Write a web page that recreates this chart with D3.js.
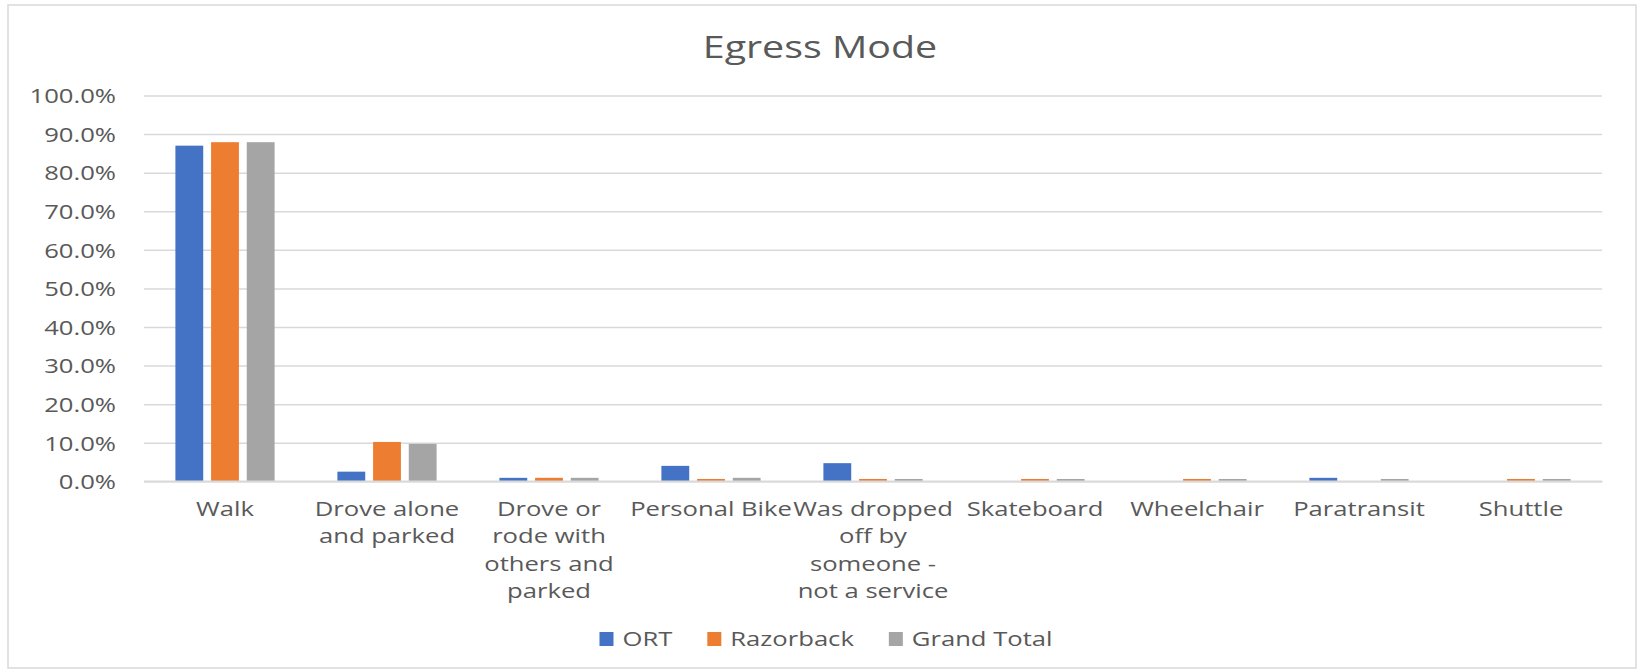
<!DOCTYPE html>
<html lang="en">
<head>
<meta charset="utf-8">
<script src="https://d3js.org/d3.v7.min.js"></script>
<style>
  body { margin: 0; background: #ffffff; }
  text { font-family: "Open Sans", "Noto Sans", sans-serif; fill: #595959; }
</style>
</head>
<body>
<div id="my_dataviz"></div>
<script>
// chart data (percent of riders)
var categories = ["Walk", "Drove alone and parked", "Drove or rode with others and parked",
  "Personal Bike", "Was dropped off by someone - not a service", "Skateboard",
  "Wheelchair", "Paratransit", "Shuttle"];
var tickLines = [["Walk"], ["Drove alone", "and parked"], ["Drove or", "rode with", "others and", "parked"],
  ["Personal Bike"], ["Was dropped", "off by", "someone -", "not a service"], ["Skateboard"],
  ["Wheelchair"], ["Paratransit"], ["Shuttle"]];
var seriesNames = ["ORT", "Razorback", "Grand Total"];
var ort        = [87.0, 2.5, 0.9, 4.0, 4.7, 0.0, 0.0, 0.9, 0.0];
var razorback  = [87.9, 10.2, 0.9, 0.6, 0.6, 0.6, 0.6, 0.0, 0.6];
var grandTotal = [87.9, 9.7, 0.9, 0.9, 0.6, 0.6, 0.6, 0.6, 0.6];
var yTicks = [0, 10, 20, 30, 40, 50, 60, 70, 80, 90, 100];

var colors = ["#4472C4", "#ED7D31", "#A5A5A5"];
var sx = 1.25; // text in the picture is a little wider than the font

var W = 1638, H = 672;
var margin = {top: 95.5, left: 144, right: W - 1602, bottom: H - 481.3};

var svg = d3.select("#my_dataviz")
  .append("svg")
  .attr("width", W)
  .attr("height", H);

// chart border
svg.append("rect")
  .attr("x", 8).attr("y", 5)
  .attr("width", 1628).attr("height", 663)
  .attr("fill", "white")
  .attr("stroke", "#d9d9d9")
  .attr("stroke-width", 1.5);

// title
svg.append("text")
  .attr("transform", "translate(820,58) scale(" + sx + ",1)")
  .attr("text-anchor", "middle")
  .style("font-size", "31.5px")
  .text("Egress Mode");

var x = d3.scaleBand()
  .domain(categories)
  .range([margin.left, W - margin.right]);

var x1 = d3.scaleBand()
  .domain(seriesNames)
  .range([0, x.bandwidth()])
  .paddingInner(0.22)
  .paddingOuter(0.88);

var y = d3.scaleLinear()
  .domain([0, 100])
  .range([H - margin.bottom, margin.top]);

// y axis with gridlines
var yAxis = svg.append("g")
  .attr("transform", "translate(" + margin.left + ",0)")
  .call(d3.axisLeft(y).tickValues(yTicks)
    .tickSize(-(W - margin.left - margin.right))
    .tickFormat(function(d) { return d.toFixed(1) + "%"; }));
yAxis.select(".domain").remove();
yAxis.selectAll(".tick line").attr("stroke", "#d9d9d9").attr("stroke-width", 1.5);
yAxis.selectAll(".tick text")
  .attr("x", -28 / sx)
  .attr("dy", null)
  .attr("y", 7.3)
  .attr("transform", "scale(" + sx + ",1)")
  .style("font-size", "20.5px")
  .style("fill", "#595959");

// category axis
var xAxis = svg.append("g")
  .attr("transform", "translate(0," + y(0) + ")")
  .call(d3.axisBottom(x).tickSize(0).tickFormat(""));
xAxis.select(".domain").attr("stroke", "#d9d9d9").attr("stroke-width", 1.5);
xAxis.selectAll(".tick text")
  .attr("y", 0)
  .attr("dy", null)
  .attr("transform", "translate(0,34.7) scale(" + sx + ",1)")
  .style("font-size", "20.5px")
  .style("fill", "#595959")
  .each(function(d, i) {
    var t = d3.select(this);
    tickLines[i].forEach(function(line, j) {
      t.append("tspan").attr("x", 0).attr("y", j * 27.5).text(line);
    });
  });

// bars
var rows = categories.map(function(c, i) {
  return {cat: c, values: [ort[i], razorback[i], grandTotal[i]]};
});

svg.append("g")
  .selectAll("g")
  .data(rows)
  .enter()
  .append("g")
    .attr("transform", function(d) { return "translate(" + x(d.cat) + ",0)"; })
  .selectAll("rect")
  .data(function(d) { return d.values.map(function(v, k) { return {key: seriesNames[k], value: v, k: k}; }); })
  .enter()
  .append("rect")
    .attr("x", function(d) { return x1(d.key); })
    .attr("y", function(d) { return y(d.value); })
    .attr("width", x1.bandwidth())
    .attr("height", function(d) { return y(0) - y(d.value); })
    .attr("fill", function(d) { return colors[d.k]; });

// redraw the zero line above the bars
svg.append("line")
  .attr("x1", margin.left).attr("x2", W - margin.right)
  .attr("y1", y(0)).attr("y2", y(0))
  .attr("stroke", "#d9d9d9").attr("stroke-width", 1.5);

// legend, centred on the chart area
var legend = svg.append("g");
var lx = 0;
seriesNames.forEach(function(name, i) {
  var item = legend.append("g").attr("transform", "translate(" + lx + ",0)");
  item.append("rect")
    .attr("x", 0).attr("y", -7)
    .attr("width", 14).attr("height", 14)
    .attr("fill", colors[i]);
  var t = item.append("text")
    .attr("transform", "translate(23,7.3) scale(" + sx + ",1)")
    .style("font-size", "20.5px")
    .text(name);
  lx += 23 + t.node().getComputedTextLength() * sx + 35;
});
lx -= 35;
legend.attr("transform", "translate(" + (826 - lx / 2) + ",639)");
</script>
</body>
</html>
